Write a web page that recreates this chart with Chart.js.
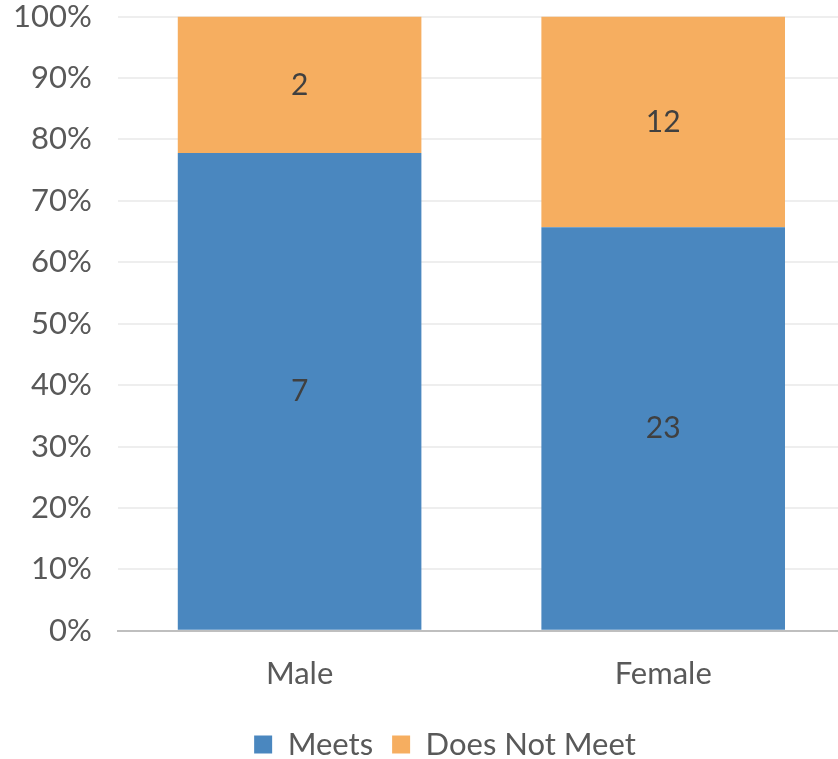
<!DOCTYPE html>
<html>
<head>
<meta charset="utf-8">
<script src="https://cdn.jsdelivr.net/npm/chart.js@4.4.1/dist/chart.umd.min.js"></script>
<style>
  html, body { margin: 0; padding: 0; background: #fff; overflow: hidden; }
  #wrap { width: 858px; height: 798px; margin-left: -13px; margin-top: -28px; }
</style>
</head>
<body>
<div id="wrap"><canvas id="myChart1"></canvas></div>
<script>
// Conteos por grupo
const categories = ['Male', 'Female'];
const meets = [7, 23];
const doesNotMeet = [2, 12];
const seriesNames = ['Meets', 'Does Not Meet'];

// Porcentaje de cada segmento sobre el total del grupo
function toPercent(values) {
    return values.map((v, i) => v / (meets[i] + doesNotMeet[i]) * 100);
}

const FONT = 'Lato, "Open Sans", sans-serif';

// Escribe el conteo en el centro de cada segmento
const segmentLabels = {
    id: 'segmentLabels',
    afterDatasetsDraw(chart) {
        const ctx = chart.ctx;
        ctx.save();
        ctx.fillStyle = '#404040';
        ctx.font = '30px ' + FONT;
        ctx.textAlign = 'center';
        ctx.textBaseline = 'middle';
        chart.data.datasets.forEach((ds, di) => {
            chart.getDatasetMeta(di).data.forEach((bar, i) => {
                const p = bar.getProps(['x', 'y', 'base'], true);
                ctx.fillText(String(ds.counts[i]), p.x, (p.y + p.base) / 2);
            });
        });
        ctx.restore();
    }
};

// Desplaza la leyenda un poco a la derecha
const legendShift = {
    id: 'legendShift',
    afterLayout(chart) {
        chart.legend.left += 29;
        chart.legend.right += 29;
    }
};

document.addEventListener('DOMContentLoaded', function () {
    const ctx1 = document.getElementById('myChart1').getContext('2d');
    new Chart(ctx1, {
        type: 'bar',
        data: {
            labels: categories,
            datasets: [{
                label: seriesNames[0],
                data: toPercent(meets),
                counts: meets,
                backgroundColor: '#4a87bf'
            }, {
                label: seriesNames[1],
                data: toPercent(doesNotMeet),
                counts: doesNotMeet,
                backgroundColor: '#f6ae60'
            }]
        },
        options: {
            responsive: true,
            maintainAspectRatio: false,
            animation: false,
            layout: { padding: 0 },
            datasets: { bar: { categoryPercentage: 1, barPercentage: 0.67 } },
            scales: {
                x: {
                    stacked: true,
                    grid: { display: false },
                    border: { color: '#bfbfbf', width: 2 },
                    ticks: { color: '#595959', font: { family: FONT, size: 31 }, padding: 17 }
                },
                y: {
                    stacked: true,
                    min: 0,
                    max: 100,
                    grid: { color: '#eeeeee', lineWidth: 2, drawTicks: false },
                    border: { display: false },
                    ticks: {
                        stepSize: 10,
                        padding: 26,
                        color: '#595959',
                        font: { family: FONT, size: 31 },
                        callback: v => v + '%'
                    }
                }
            },
            plugins: {
                tooltip: { enabled: false },
                legend: {
                    position: 'bottom',
                    labels: {
                        color: '#595959',
                        font: { family: FONT, size: 31 },
                        boxWidth: 18,
                        boxHeight: 18,
                        padding: 19
                    }
                }
            }
        },
        plugins: [segmentLabels, legendShift]
    });
});
</script>
</body>
</html>
